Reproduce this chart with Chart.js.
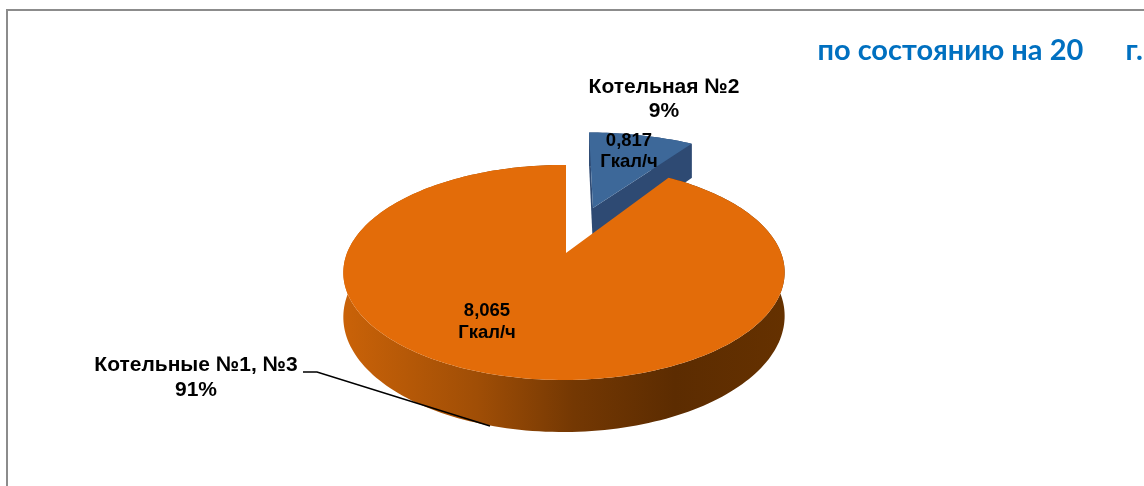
<!DOCTYPE html>
<html lang="ru">
<head>
<meta charset="UTF-8">
<title>Котельные</title>
<script src="https://cdn.jsdelivr.net/npm/chart.js"></script>
<style>
  * { margin: 0; padding: 0; box-sizing: border-box; }
  body { width: 1144px; height: 486px; background: #fff; overflow: hidden; position: relative; }
  .frame { position: absolute; left: 6px; top: 9px; width: 1138px; height: 477px; border-top: 2px solid #8c8c8c; border-left: 2px solid #8c8c8c; }
  canvas { position: absolute; left: 0; top: 0; }
</style>
</head>
<body>
<div class="frame"></div>
<canvas id="chart" width="1144" height="486"></canvas>
<script>
const categories = ['Котельная №2', 'Котельные №1, №3'];
const values = [0.817, 8.065];
const valueLabels = ['0,817', '8,065'];
const percentLabels = ['9%', '91%'];
const unit = 'Гкал/ч';
const subtitle = 'по состоянию на 20      г.';
const colors = ['#3d6899', '#e36c09'];

// perspective model of the tilted disc: apex of the big slice, half axes, foreshortening
const CX = 566, CY = 253, AX = 217, BY = 104, K = 0.181, SIDE = 0.009, DEPTH = 42.6;
// the small slice is pulled out of the pie, in disc coordinates
const shifts = [{ u: 0.135, v: -0.469, su: 1.07 }, { u: 0, v: 0, su: 1 }];

function project(u, v, z) {
  const w = 1 - K * v + SIDE * u;
  return [CX + AX * u / w, CY + (BY * v + DEPTH * z) / w];
}

function tracePath(ctx, pts) {
  ctx.beginPath();
  pts.forEach((p, i) => i ? ctx.lineTo(p[0], p[1]) : ctx.moveTo(p[0], p[1]));
  ctx.closePath();
}

function rim(arc, s, z) {
  const pts = [];
  const steps = Math.ceil((arc.endAngle - arc.startAngle) * 40);
  for (let i = 0; i <= steps; i++) {
    const a = arc.startAngle + (arc.endAngle - arc.startAngle) * i / steps;
    pts.push(project(s.u + s.su * Math.cos(a), s.v + Math.sin(a), z));
  }
  return pts;
}

function drawSlice(ctx, arc, i, wallFill) {
  const s = shifts[i];
  const top = rim(arc, s, 0);
  const bottom = rim(arc, s, 1);
  ctx.fillStyle = wallFill;
  // outer wall
  tracePath(ctx, top.concat(bottom.slice().reverse()));
  ctx.fill();
  // cut walls, only the small slice shows them
  if (i === 0) {
    const a0 = project(s.u, s.v, 0), a1 = project(s.u, s.v, 1);
    tracePath(ctx, [a0, top[0], bottom[0], a1]);
    ctx.fill();
    tracePath(ctx, [a0, top[top.length - 1], bottom[bottom.length - 1], a1]);
    ctx.fill();
  }
  tracePath(ctx, [project(s.u, s.v, 0)].concat(top));
  ctx.fillStyle = arc.options.backgroundColor;
  ctx.fill();
}

const pie3d = {
  id: 'pie3d',
  beforeDatasetDraw(chart, args) {
    const ctx = chart.ctx;
    const arcs = args.meta.data;
    const grad = ctx.createLinearGradient(345, 0, 785, 0);
    grad.addColorStop(0, '#c96208');
    grad.addColorStop(0.3, '#a04e06');
    grad.addColorStop(0.52, '#743803');
    grad.addColorStop(0.75, '#5c2c01');
    grad.addColorStop(1, '#653100');
    ctx.save();
    drawSlice(ctx, arcs[0], 0, '#2e4a73');
    drawSlice(ctx, arcs[1], 1, grad);
    ctx.restore();
    return false;
  }
};

const labels3d = {
  id: 'labels3d',
  afterDatasetsDraw(chart) {
    const ctx = chart.ctx;
    ctx.save();
    ctx.fillStyle = '#000';
    ctx.textAlign = 'center';
    ctx.textBaseline = 'middle';
    ctx.font = 'bold 21px "Liberation Sans"';
    ctx.fillText(categories[0], 664, 87);
    ctx.fillText(percentLabels[0], 664, 111);
    ctx.fillText(categories[1], 196, 365);
    ctx.fillText(percentLabels[1], 196, 390);
    ctx.font = 'bold 18.5px "Liberation Sans"';
    ctx.fillText(valueLabels[0], 629, 141);
    ctx.fillText(unit, 629, 162);
    ctx.fillText(valueLabels[1], 487, 311);
    ctx.fillText(unit, 487, 333);
    // leader line of the big slice
    ctx.strokeStyle = '#000';
    ctx.lineWidth = 1.5;
    ctx.beginPath();
    ctx.moveTo(303, 372);
    ctx.lineTo(317, 372);
    ctx.lineTo(490, 426);
    ctx.stroke();
    ctx.restore();
  }
};

new Chart(document.getElementById('chart'), {
  type: 'pie',
  data: {
    labels: categories,
    datasets: [{ data: values, backgroundColor: colors, borderWidth: 0 }]
  },
  options: {
    responsive: false,
    animation: false,
    layout: { padding: { right: 1 } },
    plugins: {
      legend: { display: false },
      tooltip: { enabled: false },
      title: {
        display: true,
        text: subtitle,
        align: 'end',
        color: '#0070c0',
        font: { family: 'Lato, "Noto Sans"', size: 29, weight: 'bold' },
        padding: { top: 33, bottom: 0 }
      }
    }
  },
  plugins: [pie3d, labels3d]
});
</script>
</body>
</html>
